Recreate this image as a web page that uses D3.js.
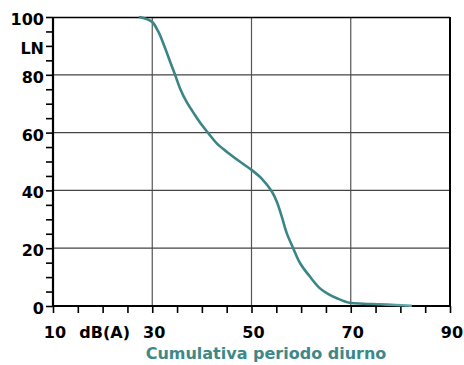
<!DOCTYPE html>
<html><head><meta charset="utf-8">
<script src="https://cdn.jsdelivr.net/npm/d3@7"></script>
<style>body{margin:0;background:#fff}svg{display:block}</style>
</head><body>
<script>
const xTickLabels = [{v:10,t:"10"},{v:20,t:"dB(A)"},{v:30,t:"30"},{v:50,t:"50"},{v:70,t:"70"},{v:90,t:"90"}];
const yTickLabels = [{v:0,t:"0"},{v:20,t:"20"},{v:40,t:"40"},{v:60,t:"60"},{v:80,t:"80"},{v:90,t:"LN"},{v:100,t:"100"}];
const xGrid = [30,50,70];
const yGrid = [20,40,60,80];
const curveDb = [27.3,29.9,31.2,32.6,33.6,34.6,35.6,36.9,38.6,40.0,41.3,43.0,45.0,47.7,50.0,52.1,54.1,55.1,56.1,57.1,58.4,59.8,61.8,63.8,65.5,67.2,69.8,72.5,75.9,79.0,82.3];
const curveLn = [100,98.4,95,89.2,84.5,80,75.3,70.7,66.1,62.6,59.8,56.3,53.4,49.9,47.1,44.0,39.6,36.1,30.9,25.2,20,14.8,10.1,6.1,4.1,2.7,1.1,0.8,0.6,0.35,0.1];
const title = "Cumulativa periodo diurno";

const W=464,H=365;
const svg=d3.select("body").append("svg").attr("width",W).attr("height",H);
const x=d3.scaleLinear().domain([10,90]).range([53,450]);
const y=d3.scaleLinear().domain([0,100]).range([306,17]);
const font="'DejaVu Sans', Verdana, sans-serif";

const defs=svg.append("defs");
const grad=defs.append("linearGradient").attr("id","fade").attr("gradientUnits","userSpaceOnUse")
  .attr("x1",x(60)).attr("x2",x(83)).attr("y1",0).attr("y2",0);
grad.append("stop").attr("offset","0%").attr("stop-color","#3a8585");
grad.append("stop").attr("offset","55%").attr("stop-color","#3a8585");
grad.append("stop").attr("offset","100%").attr("stop-color","#6fb0b0");

// grid
svg.append("g").selectAll("line").data(xGrid).join("line")
  .attr("x1",d=>x(d)).attr("x2",d=>x(d)).attr("y1",y(0)).attr("y2",y(100))
  .attr("stroke","#555").attr("stroke-width",1.2);
svg.append("g").selectAll("line").data(yGrid).join("line")
  .attr("x1",x(10)).attr("x2",x(90)).attr("y1",d=>y(d)).attr("y2",d=>y(d))
  .attr("stroke","#444").attr("stroke-width",1.2);

// border top/right
svg.append("line").attr("x1",x(10)).attr("x2",x(90)).attr("y1",y(100)+0.5).attr("y2",y(100)+0.5).attr("stroke","#000").attr("stroke-width",1.5);
svg.append("line").attr("x1",x(90)).attr("x2",x(90)).attr("y1",y(100)).attr("y2",y(0)).attr("stroke","#000").attr("stroke-width",2);

// axes
const xAxis=d3.axisBottom(x).tickValues(d3.range(10,91,5)).tickSize(7).tickFormat("");
const gx=svg.append("g").attr("transform",`translate(0,${y(0)})`).call(xAxis);
gx.select(".domain").attr("stroke","#000").attr("stroke-width",2.2).attr("d",`M${x(10)},0H${x(90)}`);
gx.selectAll(".tick line").attr("stroke","#000").attr("stroke-width",1.6);
const yAxis=d3.axisLeft(y).tickValues(d3.range(0,101,5)).tickSize(7).tickFormat("");
const gy=svg.append("g").attr("transform",`translate(${x(10)},0)`).call(yAxis);
gy.select(".domain").attr("stroke","#000").attr("stroke-width",2.2).attr("d",`M0,${y(0)}V${y(100)}`);
gy.selectAll(".tick line").attr("stroke","#000").attr("stroke-width",1.6);

// labels
svg.append("g").selectAll("text").data(xTickLabels).join("text")
  .attr("x",d=>x(d.v)+2).attr("y",338).attr("text-anchor","middle")
  .attr("font-family",font).attr("font-weight","bold").attr("font-size",16).attr("fill","#000").text(d=>d.t);
svg.append("g").selectAll("text").data(yTickLabels).join("text")
  .attr("x",44).attr("y",d=>y(d.v)+8).attr("text-anchor","end")
  .attr("font-family",font).attr("font-weight","bold").attr("font-size",16).attr("fill","#000").text(d=>d.t);
svg.append("text").attr("x",266).attr("y",359).attr("text-anchor","middle")
  .attr("font-family",font).attr("font-weight","bold").attr("font-size",16).attr("fill","#3d8888").text(title);

// curve
const pts=curveDb.map((d,i)=>[d,curveLn[i]]);
svg.append("path").datum(pts)
  .attr("d",d3.line().x(d=>x(d[0])).y(d=>y(d[1])).curve(d3.curveCatmullRom.alpha(0.5)))
  .attr("fill","none").attr("stroke","url(#fade)").attr("stroke-width",2.6);
</script>
</body></html>
